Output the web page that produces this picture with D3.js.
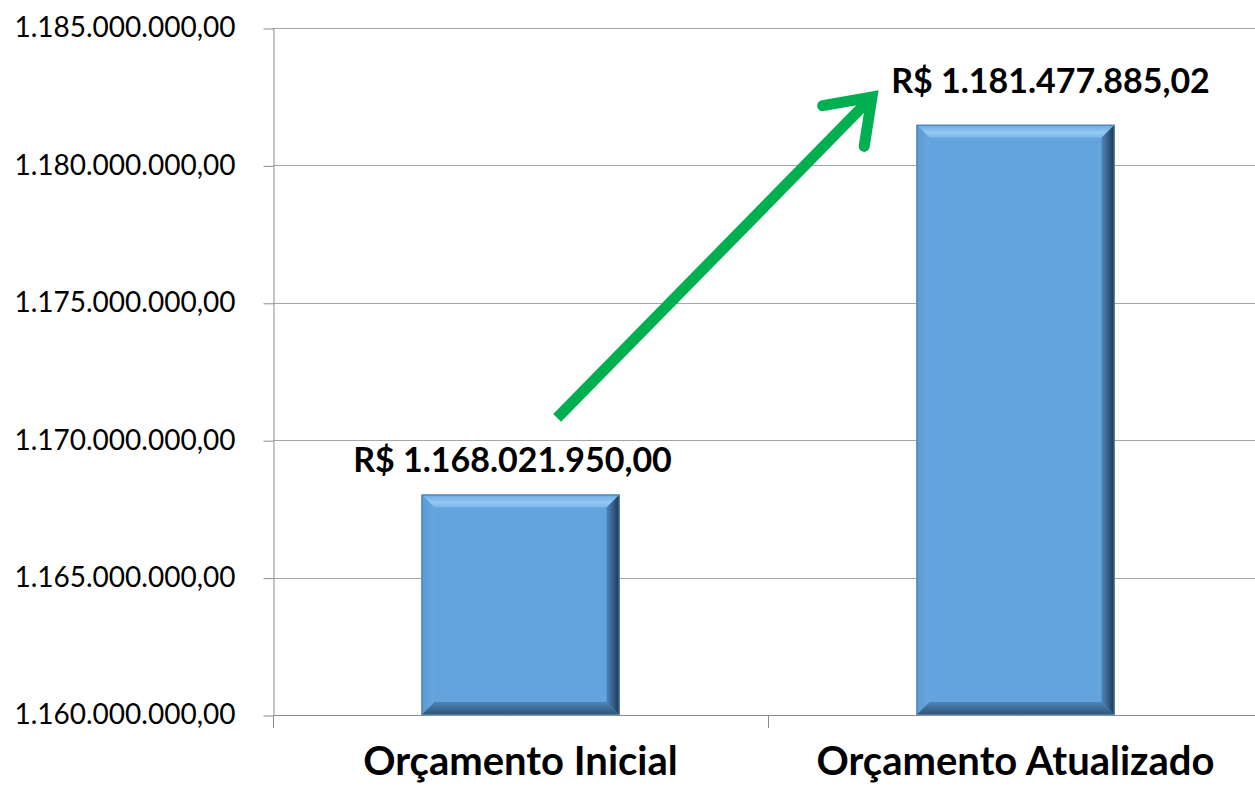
<!DOCTYPE html>
<html>
<head>
<meta charset="utf-8">
<script src="https://cdn.jsdelivr.net/npm/d3@7"></script>
<style>
  html, body { margin: 0; padding: 0; background: #fff; }
  svg { display: block; }
</style>
</head>
<body>
<div id="chart"></div>
<script>
const categories = ["Orçamento Inicial", "Orçamento Atualizado"];
const values = [1168021950.00, 1181477885.02];
const yTicks = [1160000000, 1165000000, 1170000000, 1175000000, 1180000000, 1185000000];

const W = 1255, H = 788;
const plot = { left: 273, right: 1263, top: 28, bottom: 715 };

const svg = d3.select("#chart").append("svg")
  .attr("width", W)
  .attr("height", H);

const x = d3.scaleBand()
  .domain(categories)
  .range([plot.left, plot.right])
  .paddingInner(0.6)
  .paddingOuter(0.3);

const y = d3.scaleLinear()
  .domain([1160000000, 1185000000])
  .range([plot.bottom, plot.top]);

// pt-BR number format: 1.185.000.000,00
const br = d3.formatLocale({ decimal: ",", thousands: ".", grouping: [3], currency: ["R$ ", ""] });
const fmtTick = br.format(",.2f");
const fmtMoney = br.format("$,.2f");

// gridlines
svg.append("g")
  .selectAll("line")
  .data(yTicks)
  .enter()
  .append("line")
  .attr("x1", plot.left)
  .attr("x2", W)
  .attr("y1", (d) => Math.round(y(d)) + 0.5)
  .attr("y2", (d) => Math.round(y(d)) + 0.5)
  .attr("stroke", "#a6a6a6")
  .attr("stroke-width", 1);

// y axis
const yAxis = svg.append("g")
  .attr("transform", `translate(${plot.left + 0.5},0)`)
  .call(d3.axisLeft(y).tickValues(yTicks).tickFormat(fmtTick).tickSizeInner(10).tickSizeOuter(0).tickPadding(28));
yAxis.select(".domain").attr("stroke", "#8c8c8c");
yAxis.selectAll(".tick line").attr("stroke", "#8c8c8c").attr("transform", "translate(0,0.5)");
yAxis.selectAll(".tick text")
  .attr("font-family", "Lato, sans-serif")
  .attr("font-size", 28)
  .attr("fill", "#000");

// x axis
const step = x.step();
const xTicks = [plot.left, plot.left + step * 1, plot.left + step * 2];
const xAxis = svg.append("g");
xAxis.append("line")
  .attr("x1", plot.left)
  .attr("x2", W)
  .attr("y1", plot.bottom + 0.5)
  .attr("y2", plot.bottom + 0.5)
  .attr("stroke", "#8c8c8c");
xAxis.selectAll(".xt")
  .data(xTicks)
  .enter()
  .append("line")
  .attr("x1", (d) => Math.round(d) + 0.5)
  .attr("x2", (d) => Math.round(d) + 0.5)
  .attr("y1", plot.bottom)
  .attr("y2", plot.bottom + 13)
  .attr("stroke", "#8c8c8c");
xAxis.selectAll(".cat")
  .data(categories)
  .enter()
  .append("text")
  .attr("x", (d) => x(d) + x.bandwidth() / 2)
  .attr("y", 775)
  .attr("text-anchor", "middle")
  .attr("font-family", "Lato, sans-serif")
  .attr("font-weight", 700)
  .attr("font-size", 40)
  .attr("fill", "#000")
  .text((d) => d);

// bevel gradients
const defs = svg.append("defs");
function grad(id, x1, y1, x2, y2, stops) {
  const g = defs.append("linearGradient").attr("id", id)
    .attr("x1", x1).attr("y1", y1).attr("x2", x2).attr("y2", y2);
  stops.forEach((s) => g.append("stop").attr("offset", s[0]).attr("stop-color", s[1]));
}
grad("bvTop", 0, 0, 0, 1, [[0, "#6aa9e0"], [0.6, "#93c9f3"], [1, "#78b5ea"]]);
grad("bvLeft", 0, 0, 1, 0, [[0, "#5d9ad2"], [1, "#67a6de"]]);
grad("bvRight", 0, 0, 1, 0, [[0, "#4d86bb"], [0.6, "#2f587f"], [1, "#1b3249"]]);
grad("bvBottom", 0, 0, 0, 1, [[0, "#4f85b8"], [1, "#2d5274"]]);

const bv = 13;
const bars = svg.append("g")
  .selectAll("g")
  .data(categories.map((c, i) => ({ c, v: values[i] })))
  .enter()
  .append("g");

bars.append("rect")
  .attr("x", (d) => x(d.c))
  .attr("y", (d) => y(d.v))
  .attr("width", x.bandwidth())
  .attr("height", (d) => y.range()[0] - y(d.v))
  .attr("fill", "#63a4df");

function bevel(id, fn) {
  bars.append("polygon")
    .attr("points", (d) => {
      const x0 = x(d.c), x1 = x0 + x.bandwidth();
      const y0 = y(d.v), y1 = y.range()[0];
      return fn(x0, x1, y0, y1).map((p) => p.join(",")).join(" ");
    })
    .attr("fill", `url(#${id})`);
}
bevel("bvTop", (x0, x1, y0) => [[x0, y0], [x1, y0], [x1 - bv, y0 + bv], [x0 + bv, y0 + bv]]);
bevel("bvLeft", (x0, x1, y0, y1) => [[x0, y0], [x0 + bv, y0 + bv], [x0 + bv, y1 - bv], [x0, y1]]);
bevel("bvRight", (x0, x1, y0, y1) => [[x1 - bv, y0 + bv], [x1, y0], [x1, y1], [x1 - bv, y1 - bv]]);
bevel("bvBottom", (x0, x1, y0, y1) => [[x0 + bv, y1 - bv], [x1 - bv, y1 - bv], [x1, y1], [x0, y1]]);

bars.append("rect")
  .attr("x", (d) => x(d.c) + 0.5)
  .attr("y", (d) => y(d.v) + 0.5)
  .attr("width", x.bandwidth() - 1)
  .attr("height", (d) => y.range()[0] - y(d.v) - 1)
  .attr("fill", "none")
  .attr("stroke", "#4b7fae")
  .attr("stroke-width", 1);

// value labels (moved by hand in the original)
const labelShift = [[-8, -23], [35, -32]];
svg.append("g")
  .selectAll("text")
  .data(values)
  .enter()
  .append("text")
  .attr("x", (d, i) => x(categories[i]) + x.bandwidth() / 2 + labelShift[i][0])
  .attr("y", (d) => y(d))
  .attr("dy", (d, i) => labelShift[i][1])
  .attr("text-anchor", "middle")
  .attr("font-family", "Lato, sans-serif")
  .attr("font-weight", 700)
  .attr("font-size", 34)
  .attr("fill", "#000")
  .text((d) => fmtMoney(d));

// green trend arrow
const arrowFrom = [x(categories[0]) + x.bandwidth() * 0.685, y(1170810000)];
const arrowTo = [x(categories[1]) - step * 0.09, y(1182490000)];
const ang = Math.atan2(arrowTo[1] - arrowFrom[1], arrowTo[0] - arrowFrom[0]);
const head = 50, spread = 0.62;
const arm = (s) => [arrowTo[0] - head * Math.cos(ang + s * spread), arrowTo[1] - head * Math.sin(ang + s * spread)];
const green = "#00b050";
const arrow = svg.append("g");
arrow.append("line")
  .attr("x1", arrowFrom[0]).attr("y1", arrowFrom[1])
  .attr("x2", arrowTo[0] - 6 * Math.cos(ang)).attr("y2", arrowTo[1] - 6 * Math.sin(ang))
  .attr("stroke", green).attr("stroke-width", 11);
arrow.append("path")
  .attr("d", d3.line()([arm(1), arrowTo, arm(-1)]))
  .attr("fill", "none")
  .attr("stroke", green)
  .attr("stroke-width", 11)
  .attr("stroke-linecap", "round")
  .attr("stroke-linejoin", "miter");
</script>
</body>
</html>
